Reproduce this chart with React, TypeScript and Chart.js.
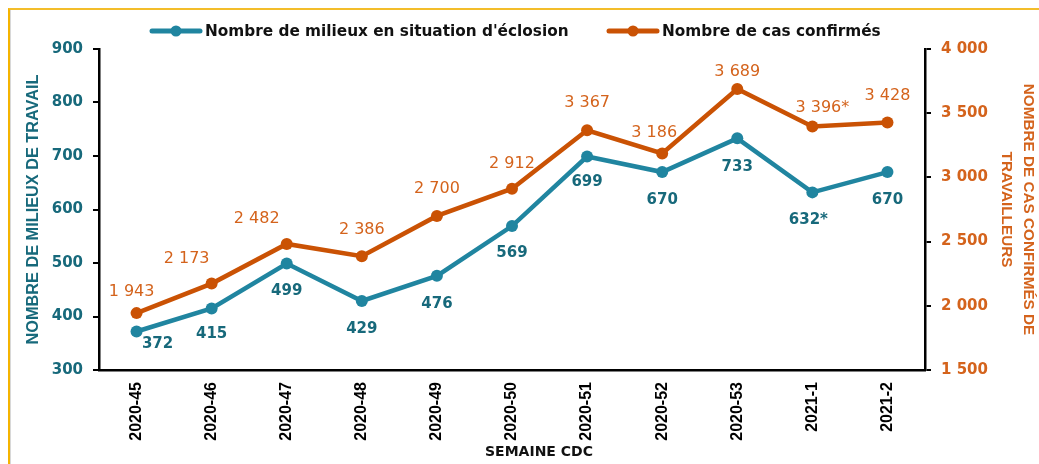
import React, { useEffect, useRef } from 'react';
import { Chart, registerables } from 'chart.js';

Chart.register(...registerables);

// ---- Data ----
const weeks = ['2020-45', '2020-46', '2020-47', '2020-48', '2020-49', '2020-50', '2020-51', '2020-52', '2020-53', '2021-1', '2021-2'];
const milieux = [372, 415, 499, 429, 476, 569, 699, 670, 733, 632, 670];
const casConfirmes = [1943, 2173, 2482, 2386, 2700, 2912, 3367, 3186, 3689, 3396, 3428];
const provisoire = [false, false, false, false, false, false, false, false, false, true, false];
const seriesNames = ["Nombre de milieux en situation d'éclosion", 'Nombre de cas confirmés'];
const leftAxis = { min: 300, max: 900, step: 100 };
const rightAxis = { min: 1500, max: 4000, step: 500 };
const leftTitle = 'NOMBRE DE MILIEUX DE TRAVAIL';
const rightTitle = ['NOMBRE DE CAS CONFIRMÉS DE', 'TRAVAILLEURS'];
const xTitle = 'SEMAINE CDC';

// ---- Styles ----
const TEAL_LINE = '#2085A0';
const TEAL_TEXT = '#17697B';
const ORANGE_LINE = '#CA5204';
const ORANGE_TEXT = '#D4631C';
const SANS = '"Liberation Sans", Arial, sans-serif';

// label offsets (dx, dy) relative to each point
const tealOffsets: [number, number][] = [[21, 13], [0, 26], [0, 28], [0, 28], [0, 28], [0, 27], [0, 26], [0, 28], [0, 29], [-4, 28], [0, 28]];
const orangeOffsets: [number, number][] = [[-5, -21], [-25, -25], [-30, -25], [0, -26], [0, -27], [0, -25], [0, -27], [-8, -21], [0, -17], [10, -19], [0, -27]];

const fmt = (n: number) => String(n).replace(/\B(?=(\d{3})+(?!\d))/g, ' ');

const labelsPlugin = {
  id: 'valueLabels',
  afterDatasetsDraw(chart: any) {
    const ctx = chart.ctx as CanvasRenderingContext2D;
    const cfgs = [
      { ds: 0, font: 'bold 15px "DejaVu Sans"', color: TEAL_TEXT, offsets: tealOffsets },
      { ds: 1, font: '16px "DejaVu Sans"', color: ORANGE_TEXT, offsets: orangeOffsets },
    ];
    ctx.save();
    ctx.textAlign = 'center';
    ctx.textBaseline = 'middle';
    for (const c of cfgs) {
      const meta = chart.getDatasetMeta(c.ds);
      const values = chart.data.datasets[c.ds].data as number[];
      ctx.font = c.font;
      ctx.fillStyle = c.color;
      meta.data.forEach((pt: any, i: number) => {
        const [dx, dy] = c.offsets[i];
        const txt = fmt(values[i]) + (provisoire[i] ? '*' : '');
        ctx.fillText(txt, pt.x + dx, pt.y + dy);
      });
    }
    ctx.restore();
  },
};

const legendPlugin = {
  id: 'customLegend',
  afterDraw(chart: any) {
    const ctx = chart.ctx as CanvasRenderingContext2D;
    const items = [
      { x: 141, color: TEAL_LINE, text: seriesNames[0] },
      { x: 598, color: ORANGE_LINE, text: seriesNames[1] },
    ];
    const y = 21;
    ctx.save();
    for (const it of items) {
      ctx.strokeStyle = it.color;
      ctx.lineWidth = 5;
      ctx.lineCap = 'round';
      ctx.beginPath();
      ctx.moveTo(it.x, y);
      ctx.lineTo(it.x + 48, y);
      ctx.stroke();
      ctx.fillStyle = it.color;
      ctx.beginPath();
      ctx.arc(it.x + 24, y, 5.5, 0, Math.PI * 2);
      ctx.fill();
      ctx.fillStyle = '#111';
      ctx.font = 'bold 15.3px "DejaVu Sans"';
      ctx.textAlign = 'left';
      ctx.textBaseline = 'middle';
      ctx.fillText(it.text, it.x + 53, y + 1);
    }
    // x axis title
    ctx.fillStyle = '#111';
    ctx.font = 'bold 14px "DejaVu Sans"';
    ctx.textAlign = 'center';
    ctx.textBaseline = 'middle';
    ctx.fillText(xTitle, 528, 442);
    ctx.restore();
  },
};

export default function App() {
  const ref = useRef<HTMLCanvasElement>(null);
  useEffect(() => {
    if (!ref.current) return;
    const chart = new Chart(ref.current, {
      type: 'line',
      data: {
        labels: weeks,
        datasets: [
          {
            label: seriesNames[0],
            data: milieux,
            yAxisID: 'y',
            borderColor: TEAL_LINE,
            backgroundColor: TEAL_LINE,
            borderWidth: 4.5,
            pointRadius: 6,
            pointBorderWidth: 0,
            pointBackgroundColor: TEAL_LINE,
            tension: 0,
          },
          {
            label: seriesNames[1],
            data: casConfirmes,
            yAxisID: 'y1',
            borderColor: ORANGE_LINE,
            backgroundColor: ORANGE_LINE,
            borderWidth: 4.5,
            pointRadius: 6,
            pointBorderWidth: 0,
            pointBackgroundColor: ORANGE_LINE,
            tension: 0,
          },
        ],
      },
      options: {
        responsive: false,
        animation: false,
        layout: { padding: { top: 39, left: 0, right: 0, bottom: 0 } },
        plugins: { legend: { display: false }, tooltip: { enabled: false } },
        scales: {
          x: {
            type: 'category',
            offset: true,
            grid: { display: false, drawTicks: false },
            border: { display: true, color: '#000', width: 2.5 },
            ticks: {
              autoSkip: false,
              minRotation: 90,
              maxRotation: 90,
              padding: 12,
              color: '#000',
              font: { family: SANS, weight: 'bold', size: 16 },
            },
            afterFit: (s: any) => { s.height = 94; },
          },
          y: {
            position: 'left',
            min: leftAxis.min,
            max: leftAxis.max,
            ticks: {
              stepSize: leftAxis.step,
              color: TEAL_TEXT,
              padding: 10,
              font: { family: '"DejaVu Sans"', weight: 'bold', size: 15 },
            },
            grid: { drawOnChartArea: false, drawTicks: true, tickLength: 6, color: '#000', lineWidth: 2 },
            border: { display: true, color: '#000', width: 2.5 },
            title: {
              display: true,
              text: leftTitle,
              color: TEAL_TEXT,
              font: { family: SANS, weight: 'bold', size: 16.3, lineHeight: 1.2 },
              padding: { top: 13, bottom: 0 },
            },
            afterFit: (s: any) => { s.width = 88; },
          },
          y1: {
            position: 'right',
            min: rightAxis.min,
            max: rightAxis.max,
            ticks: {
              stepSize: rightAxis.step,
              color: ORANGE_TEXT,
              padding: 10,
              font: { family: '"DejaVu Sans"', weight: 'bold', size: 15 },
              callback: (v: any) => fmt(Number(v)),
            },
            grid: { drawOnChartArea: false, drawTicks: true, tickLength: 6, color: '#000', lineWidth: 2 },
            border: { display: true, color: '#000', width: 2.5 },
            title: {
              display: true,
              text: rightTitle,
              color: ORANGE_TEXT,
              font: { family: SANS, weight: 'bold', size: 15.3, lineHeight: 1.44 },
              padding: { top: 0, bottom: 0 },
            },
            afterFit: (s: any) => { s.width = 114; },
          },
        },
      },
      plugins: [labelsPlugin, legendPlugin],
    } as any);
    return () => chart.destroy();
  }, []);

  return (
    <div style={{ position: 'fixed', left: 0, top: 0, width: 1039, height: 464, background: '#fff', overflow: 'hidden' }}>
      <div
        style={{
          position: 'absolute',
          left: 8,
          top: 8,
          width: 1031,
          height: 456,
          boxSizing: 'border-box',
          borderTop: '2px solid #F3BD2A',
          borderLeft: '2px solid #F5B400',
        }}
      >
        <div style={{ borderLeft: '1px solid #d8d8d8', height: '100%' }}>
          <canvas ref={ref} width={1028} height={454} style={{ display: 'block' }} />
        </div>
      </div>
    </div>
  );
}
